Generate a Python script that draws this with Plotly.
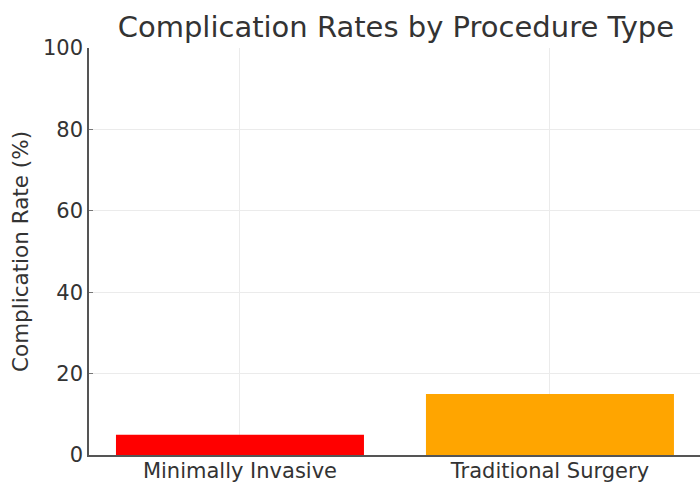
import plotly.graph_objects as go

categories = ["Minimally Invasive", "Traditional Surgery"]
rates = [5, 15]
colors = ["#ff0000", "#ffa500"]
y_ticks = [0, 20, 40, 60, 80, 100]

fig = go.Figure(go.Bar(x=categories, y=rates, marker_color=colors, width=0.8,
                       marker_line_width=0))

fig.update_layout(
    width=700, height=483,
    margin=dict(l=89, r=0, t=48, b=28, autoexpand=False),
    paper_bgcolor="white", plot_bgcolor="white",
    font=dict(family="DejaVu Sans", color="#333333"),
    title=dict(text="Complication Rates by Procedure Type", x=(89 + 700) / 2 / 700 + 0.002,
               xanchor="center", y=0.945, yanchor="middle",
               font=dict(size=29, color="#333333")),
    showlegend=False,
    bargap=0.2,
)
fig.update_xaxes(
    range=[-0.487, 1.484], showgrid=True, gridcolor="#ebebeb", gridwidth=1,
    showline=True, linecolor="#555555", linewidth=1.5,
    ticks="", tickfont=dict(size=21, color="#333333"), ticklabelstandoff=-4,
    automargin=False,
)
fig.update_yaxes(
    range=[0, 100], tickvals=y_ticks, showgrid=True, gridcolor="#ebebeb", gridwidth=1,
    showline=True, linecolor="#555555", linewidth=1.5,
    ticks="inside", ticklen=4, tickcolor="#777777", ticklabelstandoff=0,
    tickfont=dict(size=21, color="#333333"),
    title=dict(text="Complication Rate (%)", font=dict(size=21.5, color="#333333"), standoff=8),
    zeroline=False, automargin=False,
)
fig.write_html("out.html")
